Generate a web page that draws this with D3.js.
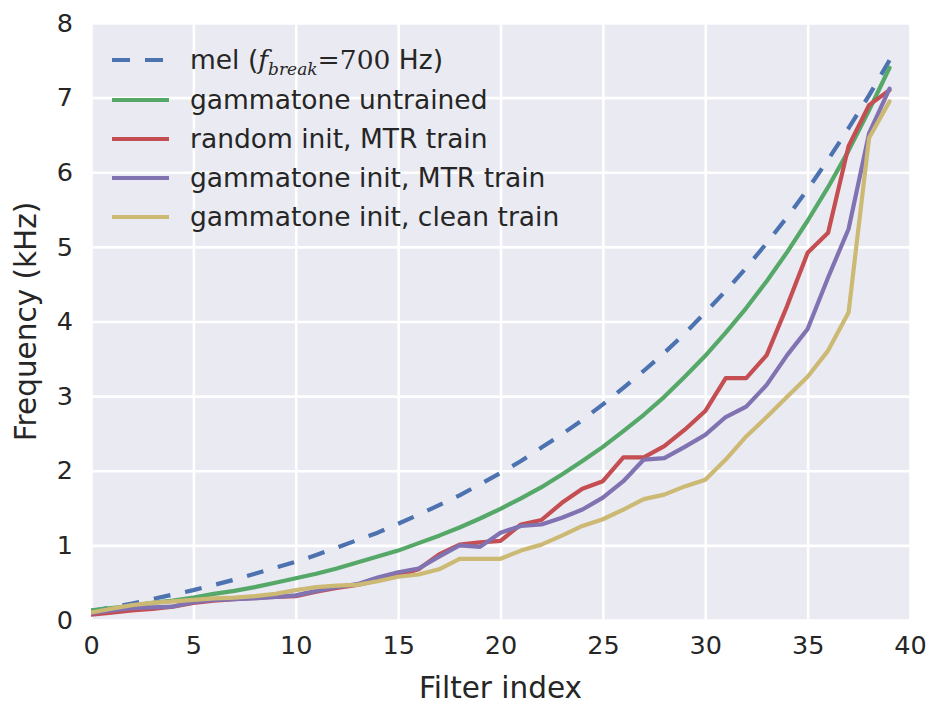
<!DOCTYPE html>
<html><head><meta charset="utf-8">
<script src="https://cdn.jsdelivr.net/npm/d3@7"></script>
<style>
html,body{margin:0;padding:0;background:#fff;}
svg text{font-family:"DejaVu Sans",sans-serif;fill:#262626;}
</style></head>
<body><svg id="c" width="932" height="704"></svg>
<script>
const filterIndex = d3.range(0, 40);
const melValues = [0.12,0.17,0.22,0.28,0.34,0.40,0.47,0.54,0.62,0.70,0.78,0.87,0.97,1.07,1.17,1.29,1.41,1.54,1.67,1.82,1.97,2.13,2.31,2.49,2.68,2.89,3.11,3.34,3.58,3.84,4.12,4.41,4.72,5.05,5.40,5.77,6.17,6.59,7.03,7.50];
const gammatoneUntrained = [0.13,0.16,0.19,0.23,0.26,0.30,0.35,0.39,0.44,0.50,0.56,0.62,0.69,0.77,0.85,0.93,1.03,1.13,1.24,1.36,1.49,1.63,1.78,1.95,2.13,2.32,2.53,2.75,2.99,3.26,3.54,3.85,4.18,4.54,4.93,5.35,5.80,6.29,6.83,7.40];
const randomInitMTR = [0.07,0.10,0.13,0.15,0.18,0.23,0.26,0.28,0.30,0.31,0.32,0.38,0.43,0.47,0.53,0.60,0.68,0.88,1.01,1.04,1.06,1.28,1.34,1.57,1.76,1.86,2.18,2.18,2.33,2.55,2.80,3.24,3.24,3.55,4.21,4.92,5.19,6.35,6.90,7.10];
const gammatoneInitMTR = [0.09,0.13,0.16,0.17,0.18,0.24,0.27,0.28,0.29,0.31,0.33,0.39,0.44,0.48,0.57,0.64,0.69,0.85,1.00,0.98,1.17,1.26,1.28,1.37,1.48,1.64,1.86,2.15,2.17,2.32,2.48,2.72,2.86,3.15,3.55,3.90,4.59,5.24,6.52,7.12];
const gammatoneInitClean = [0.10,0.15,0.20,0.23,0.25,0.27,0.29,0.30,0.32,0.35,0.40,0.44,0.46,0.47,0.52,0.58,0.61,0.68,0.82,0.82,0.82,0.93,1.01,1.13,1.26,1.35,1.48,1.62,1.68,1.79,1.88,2.15,2.46,2.72,2.99,3.26,3.61,4.12,6.46,6.95];
const xTicks = [0,5,10,15,20,25,30,35,40];
const yTicks = [0,1,2,3,4,5,6,7,8];
const seriesNames = ["mel", "gammatone untrained", "random init, MTR train", "gammatone init, MTR train", "gammatone init, clean train"];
const seriesColors = ["#4C72B0", "#55A868", "#C44E52", "#8172B2", "#CCB974"];

const series = [melValues, gammatoneUntrained, randomInitMTR, gammatoneInitMTR, gammatoneInitClean];

const svg = d3.select("#c");
const L = 91, R = 910, T = 23, B = 620;
const x = d3.scaleLinear().domain([0, 40]).range([L, R]);
const y = d3.scaleLinear().domain([0, 8]).range([B, T]);

svg.append("rect").attr("x", L).attr("y", T).attr("width", R - L).attr("height", B - T).attr("fill", "#EAEAF2");

const gx = svg.append("g").attr("transform", `translate(0,${B})`)
  .call(d3.axisBottom(x).tickValues(xTicks).tickSize(-(B - T)).tickPadding(16).tickFormat(d3.format("d")));
const gy = svg.append("g").attr("transform", `translate(${L},0)`)
  .call(d3.axisLeft(y).tickValues(yTicks).tickSize(-(R - L)).tickPadding(18).tickFormat(d3.format("d")));
[gx, gy].forEach(g => {
  g.select(".domain").remove();
  g.selectAll(".tick line").attr("stroke", "#fff").attr("stroke-width", 2.6);
  g.selectAll(".tick text").attr("font-size", 25.5).attr("fill", "#262626").style("font-family", "DejaVu Sans");
});

svg.append("clipPath").attr("id", "pc").append("rect")
  .attr("x", L).attr("y", T).attr("width", R - L).attr("height", B - T);

const line = d3.line().x((d, i) => x(filterIndex[i])).y(d => y(d));
const plot = svg.append("g").attr("clip-path", "url(#pc)");
series.forEach((s, k) => {
  plot.append("path").datum(s).attr("d", line).attr("fill", "none")
    .attr("stroke", seriesColors[k]).attr("stroke-width", 4.2)
    .attr("stroke-linejoin", "round").attr("stroke-linecap", k === 0 ? "butt" : "round")
    .attr("stroke-dasharray", k === 0 ? "17,15" : null);
});

// legend
const lg = svg.append("g");
const rowY = [60, 100, 139, 178, 217];
seriesNames.forEach((name, k) => {
  lg.append("line").attr("x1", 112).attr("x2", 169).attr("y1", rowY[k]).attr("y2", rowY[k])
    .attr("stroke", seriesColors[k]).attr("stroke-width", 4.2)
    .attr("stroke-dasharray", k === 0 ? "18,15" : null);
  const t = lg.append("text").attr("x", 190).attr("y", rowY[k] + 9).attr("font-size", 26.5);
  if (k === 0) {
    t.append("tspan").text("mel (");
    t.append("tspan").text("f").style("font-family", "DejaVu Serif").style("font-style", "italic");
    t.append("tspan").text("break").attr("font-size", 17).attr("dy", 6).style("font-family", "DejaVu Serif").style("font-style", "italic");
    t.append("tspan").text("=700").attr("dy", -6).style("font-family", "DejaVu Serif");
    t.append("tspan").text(" Hz)");
  } else {
    t.text(name);
  }
});

svg.append("text").attr("x", (L + R) / 2).attr("y", 698).attr("text-anchor", "middle")
  .attr("font-size", 29.5).text("Filter index");
svg.append("text").attr("transform", `translate(36,${(T + B) / 2}) rotate(-90)`).attr("text-anchor", "middle")
  .attr("font-size", 29.5).text("Frequency (kHz)");
</script></body></html>
